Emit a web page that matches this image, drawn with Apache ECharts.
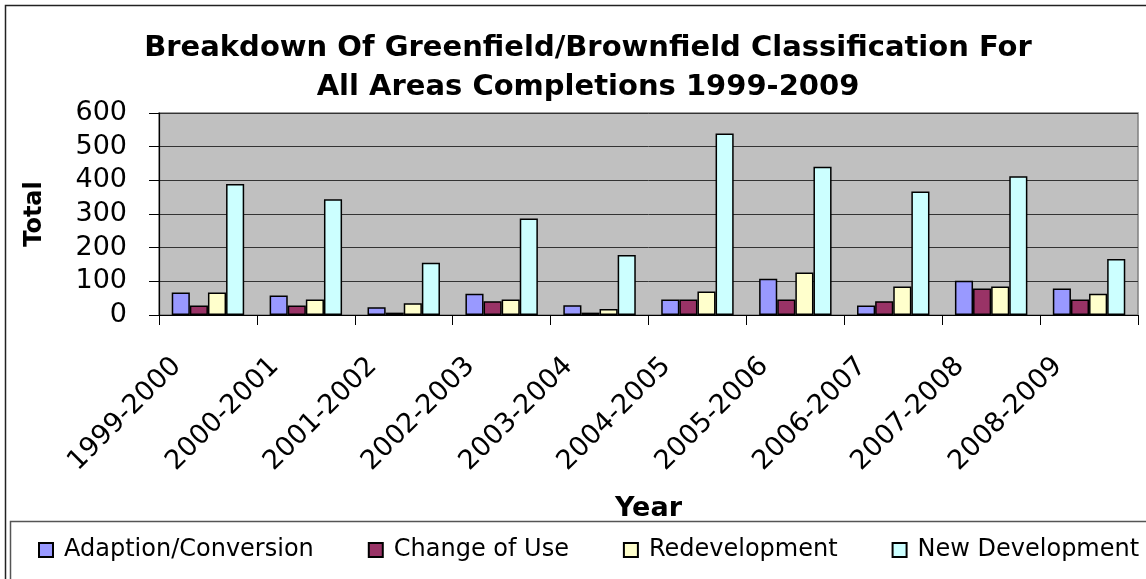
<!DOCTYPE html>
<html>
<head>
<meta charset="utf-8">
<script src="https://cdn.jsdelivr.net/npm/echarts@6/dist/echarts.min.js"></script>
<style>
html,body{margin:0;padding:0;background:#fff;overflow:hidden;}
#chart{width:1146px;height:579px;}
</style>
</head>
<body>
<div id="chart"></div>
<script>
// ---- data ----
const categories = ['1999-2000','2000-2001','2001-2002','2002-2003','2003-2004','2004-2005','2005-2006','2006-2007','2007-2008','2008-2009'];
const seriesNames = ['Adaption/Conversion','Change of Use','Redevelopment','New Development'];
const adaptionConversion = [67, 58, 23, 63, 29, 46, 108, 28, 102, 79];
const changeOfUse        = [28, 28, 7, 41, 7, 46, 46, 41, 79, 46];
const redevelopment      = [67, 46, 35, 46, 18, 70, 126, 85, 85, 63];
const newDevelopment     = [389, 344, 155, 287, 178, 539, 440, 367, 412, 166];
const yTicks = [0, 100, 200, 300, 400, 500, 600];

const colors = ['#9999FF', '#993366', '#FFFFCC', '#CCFFFF'];
const values = [adaptionConversion, changeOfUse, redevelopment, newDevelopment];
const FONT = 'DejaVu Sans';

const chart = echarts.init(document.getElementById('chart'), null, {renderer: 'canvas'});
chart.setOption({
  backgroundColor: '#ffffff',
  animation: false,
  title: {
    text: 'Breakdown Of Greenfield/Brownfield Classification For\nAll Areas Completions 1999-2009',
    left: 583, top: 24, textAlign: 'center',
    textStyle: {fontFamily: FONT, fontWeight: 'bold', fontSize: 29, color: '#000', lineHeight: 39}
  },
  graphic: [
    {type: 'polyline', shape: {points: [[1160, 5.5], [5.5, 5.5], [5.5, 600]]}, style: {stroke: '#222', fill: null, lineWidth: 1.5}, silent: true},
    {type: 'polyline', shape: {points: [[1160, 521.5], [10.5, 521.5], [10.5, 600]]}, style: {stroke: '#555', fill: null, lineWidth: 1.5}, silent: true}
  ],
  legend: {
    data: seriesNames,
    left: 33, top: 533, width: 1140,
    icon: 'rect', itemWidth: 14, itemHeight: 14, itemGap: 54,
    textStyle: {fontFamily: FONT, fontSize: 24, color: '#000', padding: [0, 0, 0, 6]}
  },
  grid: {left: 159, right: 8, top: 113, bottom: 264, show: true, backgroundColor: '#C0C0C0', borderColor: '#808080', borderWidth: 1.5},
  xAxis: {
    type: 'category', data: categories,
    name: 'Year', nameLocation: 'middle', nameGap: 180,
    nameTextStyle: {fontFamily: FONT, fontWeight: 'bold', fontSize: 27, color: '#000'},
    axisLine: {lineStyle: {color: '#000', width: 1.2}},
    axisTick: {show: true, length: 10, lineStyle: {color: '#000'}},
    axisLabel: {rotate: 45, margin: 16, padding: [0, 44, 0, 0], fontFamily: FONT, fontSize: 27, color: '#000', interval: 0}
  },
  yAxis: {
    type: 'value', min: 0, max: 600, interval: 100,
    name: 'Total', nameLocation: 'middle', nameGap: 112, nameRotate: 90,
    nameTextStyle: {fontFamily: FONT, fontWeight: 'bold', fontSize: 24, color: '#000'},
    axisLine: {show: true, lineStyle: {color: '#000', width: 1.2}},
    axisTick: {show: true, length: 10, lineStyle: {color: '#000'}},
    axisLabel: {margin: 32, fontFamily: FONT, fontSize: 27, color: '#000',
      formatter: v => yTicks.includes(v) ? String(v) : ''},
    splitLine: {show: true, lineStyle: {color: '#333', width: 1}}
  },
  series: seriesNames.map((name, i) => ({
    name: name, type: 'bar', data: values[i],
    barGap: '0%', barCategoryGap: '26%',
    itemStyle: {color: colors[i], borderColor: '#000', borderWidth: 1.5}
  }))
});
</script>
</body>
</html>
